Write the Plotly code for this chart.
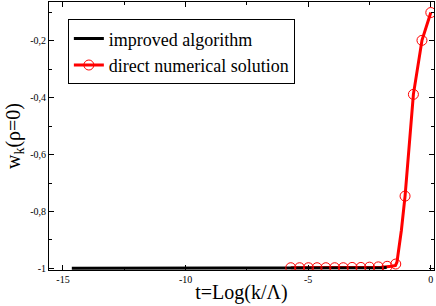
import plotly.graph_objects as go

# improved algorithm (black line, visible flat part)
t_improved = [-14.64, -10.0, -5.0, -3.0, -2.0, -1.8]
w_improved = [-1.0, -1.0, -1.0, -0.999, -0.998, -0.997]

# direct numerical solution (red line)
t_direct_line = [-5.71, -5.0, -4.0, -3.0, -2.0, -1.6, -1.44, -1.38, -1.2, -1.05, -0.89, -0.71, -0.36, 0.0]
w_direct_line = [-0.998, -0.998, -0.998, -0.997, -0.996, -0.993, -0.99, -0.978, -0.866, -0.746, -0.584, -0.388, -0.198, -0.1]

# direct numerical solution (circle markers)
t_direct_pts = [-5.71, -5.35, -4.99, -4.64, -4.28, -3.92, -3.57, -3.21, -2.85, -2.50,
                -2.14, -1.78, -1.43, -1.05, -0.71, -0.36, 0.0]
w_direct_pts = [-0.998, -0.998, -0.998, -0.998, -0.998, -0.998, -0.998, -0.997, -0.997, -0.996,
                -0.995, -0.993, -0.985, -0.746, -0.388, -0.198, -0.1]

x_ticks = [-15, -10, -5, 0]
y_ticks = [-1, -0.8, -0.6, -0.4, -0.2]
y_tick_text = ["-1", "-0,8", "-0,6", "-0,4", "-0,2"]

RED = "#ff0000"
FONT = "Liberation Serif"

fig = go.Figure()
fig.add_trace(go.Scatter(x=t_direct_line, y=w_direct_line, mode="lines",
                         line=dict(color=RED, width=3), showlegend=False))
fig.add_trace(go.Scatter(x=t_improved, y=w_improved, mode="lines",
                         line=dict(color="black", width=3), name="improved algorithm"))
fig.add_trace(go.Scatter(x=t_direct_pts, y=w_direct_pts, mode="markers",
                         marker=dict(symbol="circle-open", size=10, color=RED, line=dict(width=1, color=RED)),
                         showlegend=False))
fig.add_trace(go.Scatter(x=[None], y=[None], mode="lines+markers",
                         line=dict(color=RED, width=3),
                         marker=dict(symbol="circle-open", size=10, color=RED, line=dict(width=1, color=RED)),
                         name="direct numerical solution"))

axis_common = dict(showgrid=False, zeroline=False, showline=True, linecolor="black", linewidth=1,
                   mirror="allticks", ticks="inside", ticklen=5, tickcolor="black",
                   tickfont=dict(family=FONT, size=10, color="black"))

fig.update_xaxes(range=[-15.57, 0.13], tickvals=x_ticks, ticktext=[str(v) for v in x_ticks],
                 minor=dict(dtick=2.5, tick0=0, ticks="inside", ticklen=3, tickcolor="black"),
                 title=dict(text="t=Log(k/Λ)", font=dict(family=FONT, size=20, color="black"), standoff=0),
                 **axis_common)
fig.update_yaxes(range=[-1.006, -0.063], tickvals=y_ticks, ticktext=y_tick_text,
                 minor=dict(dtick=0.1, tick0=0, ticks="inside", ticklen=3, tickcolor="black"),
                 title=dict(text="w<sub>k</sub>(ρ=0)", font=dict(family=FONT, size=20, color="black"), standoff=4),
                 **axis_common)

fig.update_layout(width=436, height=306, margin=dict(l=49, r=2, t=2, b=36),
                  plot_bgcolor="white", paper_bgcolor="white",
                  legend=dict(x=0.049, y=0.935, xanchor="left", yanchor="top",
                              bgcolor="white", bordercolor="black", borderwidth=1,
                              font=dict(family=FONT, size=18, color="black"),
                              tracegroupgap=0, itemwidth=30, traceorder="normal"),
                  showlegend=True)

fig.write_html("out.html", config={"displayModeBar": False},
               post_script="document.body.style.margin='0';")
